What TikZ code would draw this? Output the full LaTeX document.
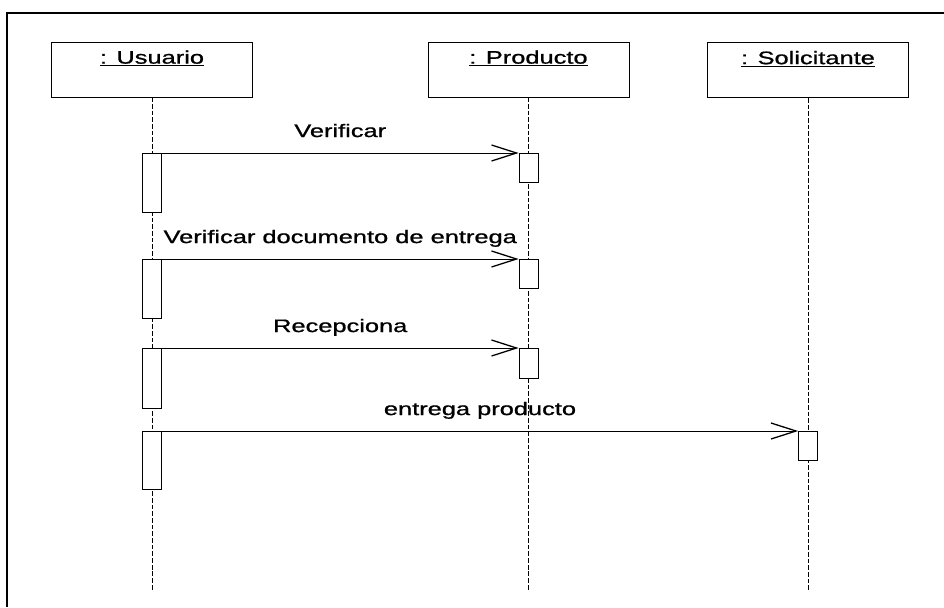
\documentclass[tikz,border=0pt]{standalone}
\usepackage{fontspec}
\setmainfont[FakeBold=0.8]{Liberation Sans}
\usepackage{graphicx}
\usetikzlibrary{arrows.meta}
\newcommand{\wide}[1]{\scalebox{1.4}[1]{#1}}

\begin{document}
\begin{tikzpicture}[x=0.03cm, y=-0.03cm, line width=0.6pt,
  font=\fontsize{15.5}{18}\selectfont,
  objbox/.style={draw, minimum width=6.03cm, minimum height=1.65cm, inner sep=0pt},
  objname/.style={anchor=base, inner sep=0pt},
  actbox/.style={draw, fill=white, minimum width=0.57cm, anchor=north, inner sep=0pt},
  lifeline/.style={dash pattern=on 4pt off 1.7pt, line width=0.5pt},
  msg/.style={-{Straight Barb[length=0.75cm, width=0.48cm, line width=1.1pt]}},
  lbl/.style={midway, anchor=base, yshift=13.6pt, inner sep=0pt}]
  \useasboundingbox (0,0) rectangle (944,607);
  % frame
  \draw[line width=2.5pt] (944,13) -- (7,13) -- (7,607);
  % objects
  \node[objbox] (usr) at (152,69.5) {};
  \node[objbox] (prod) at (528.5,69.5) {};
  \node[objbox] (sol) at (808,70) {};
  \node[objname] (usr-name) at ([yshift=-0.66cm]usr.north) {\wide{\underline{: Usuario}}};
  \node[objname] (prod-name) at ([yshift=-0.66cm]prod.north) {\wide{\underline{: Producto}}};
  \node[objname] (sol-name) at ([yshift=-0.66cm]sol.north) {\wide{\underline{: Solicitante}}};
  % lifelines
  \coordinate (usr-end) at (152,590);
  \coordinate (prod-end) at (528.5,590);
  \coordinate (sol-end) at (808,590);
  \draw[lifeline] (usr.south) -- (usr-end);
  \draw[lifeline] (prod.south) -- (prod-end);
  \draw[lifeline] (sol.south) -- (sol-end);
  % activations
  \node[actbox, minimum height=1.77cm] (u1) at (152,153) {};
  \node[actbox, minimum height=1.77cm] (u2) at (152,259) {};
  \node[actbox, minimum height=1.8cm] (u3) at (152,348) {};
  \node[actbox, minimum height=1.74cm] (u4) at (152,431) {};
  \node[actbox, minimum height=0.87cm] (p1) at (528.5,153) {};
  \node[actbox, minimum height=0.87cm] (p2) at (528.5,259) {};
  \node[actbox, minimum height=0.9cm] (p3) at (528.5,348) {};
  \node[actbox, minimum height=0.87cm] (s1) at (808,431) {};
  % messages
  \draw[msg] (u1.north east) -- (p1.north west) node[lbl] {\wide{Verificar}};
  \draw[msg] (u2.north east) -- (p2.north west) node[lbl] {\wide{Verificar documento de entrega}};
  \draw[msg] (u3.north east) -- (p3.north west) node[lbl] {\wide{Recepciona}};
  \draw[msg] (u4.north east) -- (s1.north west) node[lbl] {\wide{entrega producto}};
\end{tikzpicture}
\end{document}
